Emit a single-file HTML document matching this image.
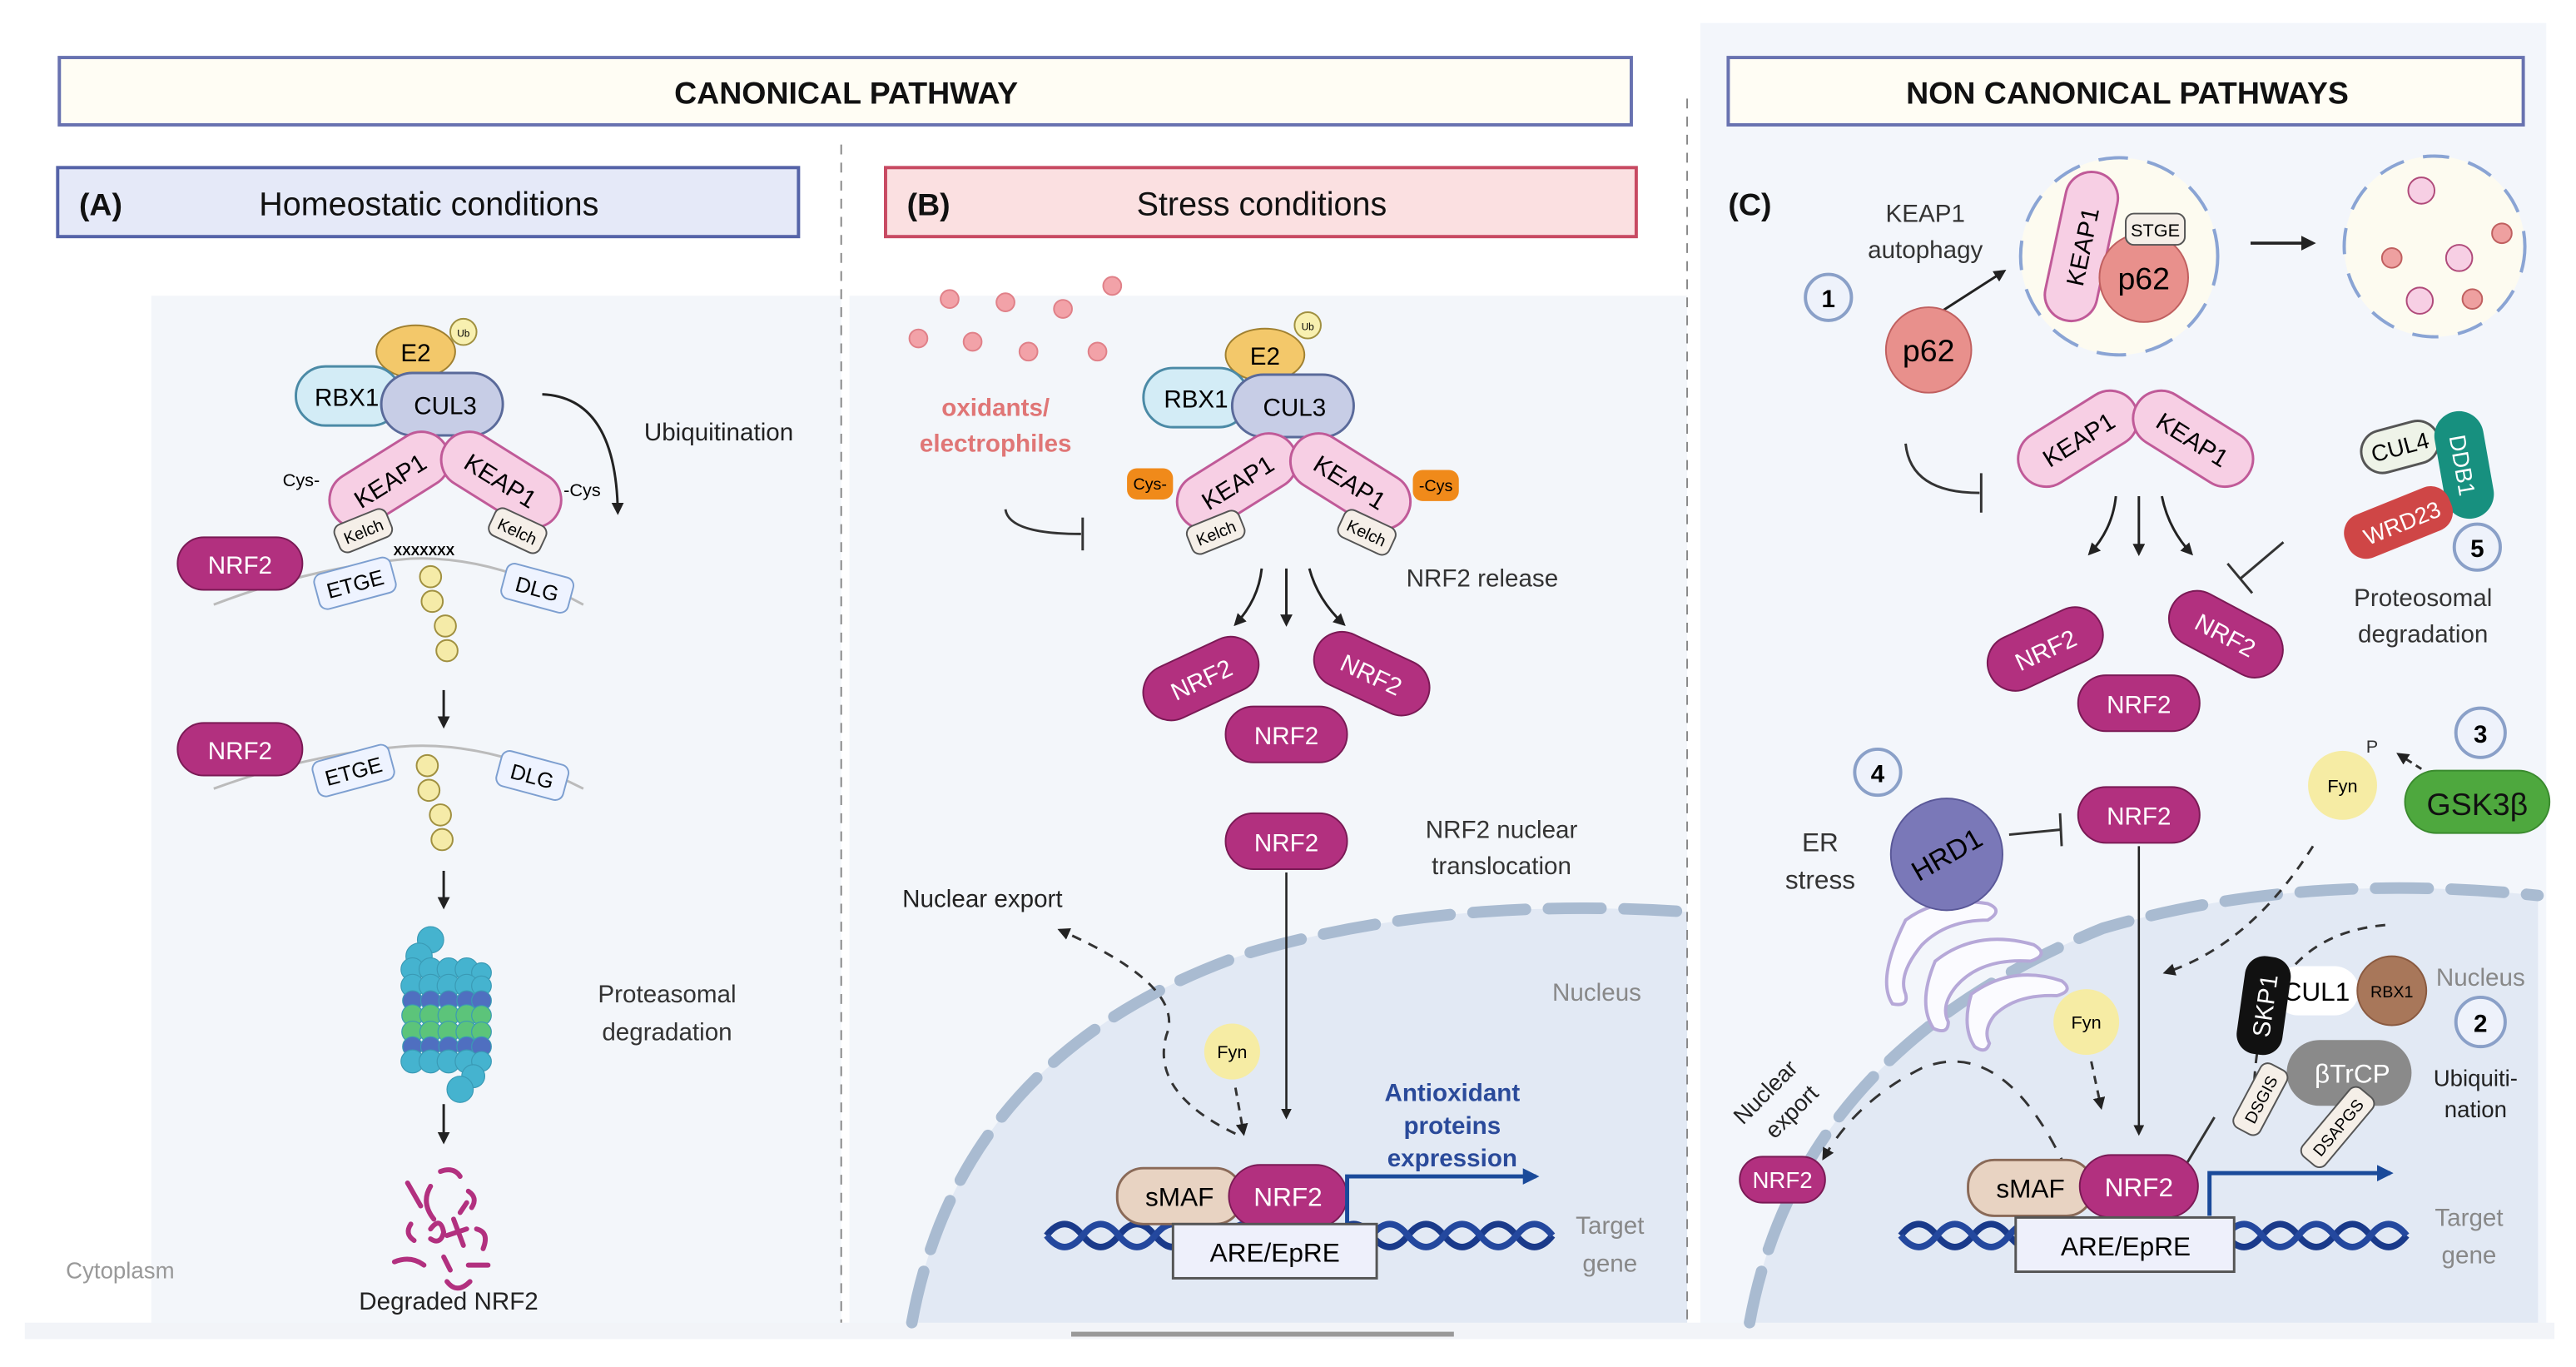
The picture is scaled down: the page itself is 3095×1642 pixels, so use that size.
<!DOCTYPE html>
<html><head><meta charset="utf-8"><style>
html,body{margin:0;padding:0;background:#fff;}
svg{display:block;}
text{font-family:"Liberation Sans",sans-serif;}
</style></head><body>
<svg width="3095" height="1642" viewBox="0 0 1568 832" xmlns="http://www.w3.org/2000/svg">
<defs>
<marker id="ah" viewBox="0 0 10 10" refX="8" refY="5" markerWidth="5" markerHeight="5" orient="auto"><path d="M0,0 L10,5 L0,10 z" fill="#222"/></marker>
<marker id="ahb" viewBox="0 0 10 10" refX="8" refY="5" markerWidth="4" markerHeight="4" orient="auto"><path d="M0,0 L10,5 L0,10 z" fill="#1a4a9a"/></marker>
</defs>
<rect width="1568" height="832" fill="#fff"/>
<!-- backgrounds -->
<rect x="1035" y="14" width="515" height="800" fill="#f3f6fb"/>
<rect x="92" y="180" width="420" height="634" fill="#f3f6fa"/>
<rect x="517" y="180" width="510" height="634" fill="#f3f6fa"/>
<rect x="15" y="805" width="1540" height="10" fill="#f2f4f8"/>
<!-- nuclei -->
<path d="M555,805 Q585,640 760,580 Q880,545 1027,555 L1027,805 Z" fill="#e2e9f4"/>
<path d="M555,805 Q585,640 760,580 Q880,545 1027,555" fill="none" stroke="#a9bbd1" stroke-width="7" stroke-dasharray="32 14" stroke-linecap="round"/>
<path d="M1065,805 Q1095,640 1280,565 Q1400,530 1545,545 L1545,805 Z" fill="#e2e9f4"/>
<path d="M1065,805 Q1095,640 1280,565 Q1400,530 1545,545" fill="none" stroke="#a9bbd1" stroke-width="7" stroke-dasharray="32 14" stroke-linecap="round"/>
<!-- dividers -->
<line x1="512" y1="88" x2="512" y2="805" stroke="#888" stroke-width="1" stroke-dasharray="6 5"/>
<line x1="1027" y1="60" x2="1027" y2="805" stroke="#888" stroke-width="1" stroke-dasharray="6 5"/>
<line x1="652" y1="812" x2="885" y2="812" stroke="#999" stroke-width="3"/>
<!-- headers -->
<rect x="36" y="35" width="957" height="41" fill="#fffdf4" stroke="#6872b0" stroke-width="2"/>
<text x="515" y="63" font-size="19" font-weight="bold" text-anchor="middle" fill="#111">CANONICAL PATHWAY</text>
<rect x="1052" y="35" width="484" height="41" fill="#fffdf4" stroke="#6872b0" stroke-width="2"/>
<text x="1295" y="63" font-size="19" font-weight="bold" text-anchor="middle" fill="#111">NON CANONICAL PATHWAYS</text>
<rect x="35" y="102" width="451" height="42" fill="#e5e9f8" stroke="#5563a8" stroke-width="2"/>
<text x="48" y="131" font-size="19" font-weight="bold" fill="#111">(A)</text>
<text x="261" y="131" font-size="20" text-anchor="middle" fill="#111">Homeostatic conditions</text>
<rect x="539" y="102" width="457" height="42" fill="#fbe0e1" stroke="#c84a62" stroke-width="2"/>
<text x="552" y="131" font-size="19" font-weight="bold" fill="#111">(B)</text>
<text x="768" y="131" font-size="20" text-anchor="middle" fill="#111">Stress conditions</text>

<!-- ========== PANEL A ========== -->
<g font-size="14">
<ellipse cx="253" cy="214" rx="24" ry="16" fill="#f3c86a" stroke="#a08030"/>
<text x="253" y="220" text-anchor="middle" font-size="15">E2</text>
<circle cx="282" cy="202" r="8" fill="#f8f0b0" stroke="#a09040"/>
<text x="282" y="205" text-anchor="middle" font-size="6">Ub</text>
<rect x="180" y="223" width="64" height="36" rx="18" fill="#d3ecf6" stroke="#4b8aa6" stroke-width="1.5"/>
<text x="211" y="247" text-anchor="middle" font-size="15">RBX1</text>
<rect x="232" y="227" width="74" height="38" rx="19" fill="#c7cde6" stroke="#5a6a9a" stroke-width="1.5"/>
<text x="271" y="252" text-anchor="middle" font-size="15">CUL3</text>
<g transform="translate(237,292) rotate(-32)"><rect x="-40" y="-17" width="80" height="34" rx="17" fill="#f7cfe4" stroke="#c05a98" stroke-width="1.5"/><text x="0" y="6" text-anchor="middle" font-size="15">KEAP1</text></g>
<g transform="translate(305,292) rotate(32)"><rect x="-40" y="-17" width="80" height="34" rx="17" fill="#f7cfe4" stroke="#c05a98" stroke-width="1.5"/><text x="0" y="6" text-anchor="middle" font-size="15">KEAP1</text></g>
<text x="172" y="296" font-size="11">Cys-</text>
<text x="343" y="302" font-size="11">-Cys</text>
<g transform="translate(221,323) rotate(-22)"><rect x="-17" y="-9" width="34" height="18" rx="5" fill="#f5efe8" stroke="#555"/><text x="0" y="4" text-anchor="middle" font-size="10">Kelch</text></g>
<g transform="translate(315,323) rotate(25)"><rect x="-17" y="-9" width="34" height="18" rx="5" fill="#f5efe8" stroke="#555"/><text x="0" y="4" text-anchor="middle" font-size="10">Kelch</text></g>
<text x="258" y="338" text-anchor="middle" font-size="8" font-weight="bold">XXXXXXX</text>
<path d="M130,368 Q190,345 250,340 Q300,338 355,368" fill="none" stroke="#bbb" stroke-width="1.5"/>
<rect x="108" y="327" width="76" height="32" rx="16" fill="#b2307f" stroke="#7a1a55"/>
<text x="146" y="349" text-anchor="middle" fill="#fff" font-size="15">NRF2</text>
<g transform="translate(216,355) rotate(-15)"><rect x="-24" y="-11" width="48" height="22" rx="5" fill="#eef3ff" stroke="#7d9fd0"/><text x="0" y="5" text-anchor="middle" font-size="13">ETGE</text></g>
<g transform="translate(327,358) rotate(15)"><rect x="-21" y="-11" width="42" height="22" rx="5" fill="#eef3ff" stroke="#7d9fd0"/><text x="0" y="5" text-anchor="middle" font-size="13">DLG</text></g>
<g fill="#f5eba8" stroke="#a09040"><circle cx="262" cy="351" r="6.5"/><circle cx="263" cy="366" r="6.5"/><circle cx="271" cy="381" r="6.5"/><circle cx="272" cy="396" r="6.5"/></g>
<path d="M330,240 Q375,242 376,312" fill="none" stroke="#222" stroke-width="1.5" marker-end="url(#ah)"/>
<text x="392" y="268" font-size="15" fill="#222">Ubiquitination</text>
<line x1="270" y1="420" x2="270" y2="442" stroke="#222" stroke-width="1.5" marker-end="url(#ah)"/>
<path d="M130,480 Q190,458 250,454 Q300,452 355,480" fill="none" stroke="#bbb" stroke-width="1.5"/>
<rect x="108" y="440" width="76" height="32" rx="16" fill="#b2307f" stroke="#7a1a55"/>
<text x="146" y="462" text-anchor="middle" fill="#fff" font-size="15">NRF2</text>
<g transform="translate(215,469) rotate(-15)"><rect x="-24" y="-11" width="48" height="22" rx="5" fill="#eef3ff" stroke="#7d9fd0"/><text x="0" y="5" text-anchor="middle" font-size="13">ETGE</text></g>
<g transform="translate(324,472) rotate(15)"><rect x="-21" y="-11" width="42" height="22" rx="5" fill="#eef3ff" stroke="#7d9fd0"/><text x="0" y="5" text-anchor="middle" font-size="13">DLG</text></g>
<g fill="#f5eba8" stroke="#a09040"><circle cx="260" cy="466" r="6.5"/><circle cx="261" cy="481" r="6.5"/><circle cx="268" cy="496" r="6.5"/><circle cx="269" cy="511" r="6.5"/></g>
<line x1="270" y1="530" x2="270" y2="552" stroke="#222" stroke-width="1.5" marker-end="url(#ah)"/>
<!-- proteasome -->
<g stroke="#3a9ab5" stroke-width="0.6">
<circle cx="262" cy="572" r="8" fill="#45b3cf"/><circle cx="255" cy="582" r="8" fill="#45b3cf"/>
<g fill="#45b3cf"><circle cx="251" cy="590" r="7"/><circle cx="262" cy="590" r="7"/><circle cx="273" cy="590" r="7"/><circle cx="284" cy="590" r="7"/><circle cx="293" cy="592" r="6"/>
<circle cx="251" cy="600" r="7"/><circle cx="262" cy="600" r="7"/><circle cx="273" cy="600" r="7"/><circle cx="284" cy="600" r="7"/><circle cx="293" cy="600" r="6"/></g>
<g fill="#4f6fc0"><circle cx="251" cy="609" r="6"/><circle cx="262" cy="609" r="6"/><circle cx="273" cy="609" r="6"/><circle cx="284" cy="609" r="6"/><circle cx="293" cy="609" r="6"/></g>
<g fill="#5cc47a"><circle cx="251" cy="618" r="6.5"/><circle cx="262" cy="618" r="6.5"/><circle cx="273" cy="618" r="6.5"/><circle cx="284" cy="618" r="6.5"/><circle cx="293" cy="618" r="6"/>
<circle cx="251" cy="628" r="6.5"/><circle cx="262" cy="628" r="6.5"/><circle cx="273" cy="628" r="6.5"/><circle cx="284" cy="628" r="6.5"/><circle cx="293" cy="628" r="6"/></g>
<g fill="#4f6fc0"><circle cx="251" cy="637" r="6"/><circle cx="262" cy="637" r="6"/><circle cx="273" cy="637" r="6"/><circle cx="284" cy="637" r="6"/><circle cx="293" cy="637" r="6"/></g>
<g fill="#45b3cf"><circle cx="251" cy="646" r="7"/><circle cx="262" cy="646" r="7"/><circle cx="273" cy="646" r="7"/><circle cx="284" cy="646" r="7"/><circle cx="293" cy="646" r="6"/>
<circle cx="288" cy="655" r="7"/><circle cx="280" cy="663" r="8"/></g>
</g>
<text x="406" y="610" text-anchor="middle" font-size="15" fill="#333">Proteasomal</text>
<text x="406" y="633" text-anchor="middle" font-size="15" fill="#333">degradation</text>
<line x1="270" y1="672" x2="270" y2="695" stroke="#222" stroke-width="1.5" marker-end="url(#ah)"/>
<g fill="none" stroke="#b2307f" stroke-width="3" stroke-linecap="round">
<path d="M248,720 l8,14"/><path d="M262,722 q-6,10 2,20"/><path d="M268,713 q8,-3 12,3"/><path d="M285,725 q6,4 2,10"/>
<path d="M250,745 q-4,6 2,10"/><path d="M262,748 q6,-8 8,2 q-2,8 -8,4"/><path d="M276,742 l6,16 M272,752 l12,-4"/><path d="M290,748 q8,2 4,12"/>
<path d="M240,768 q10,-4 18,2"/><path d="M270,765 l4,8"/><path d="M285,770 l12,0"/><path d="M272,780 q6,8 14,0"/><path d="M280,738 l4,-6"/>
</g>
<text x="273" y="797" text-anchor="middle" font-size="15" fill="#222">Degraded NRF2</text>
<text x="40" y="778" font-size="14" fill="#999">Cytoplasm</text>
</g>

<!-- ========== PANEL B ========== -->
<g font-size="14">
<g fill="#f2a2a8" stroke="#e08088"><circle cx="578" cy="182" r="5.5"/><circle cx="612" cy="184" r="5.5"/><circle cx="647" cy="188" r="5.5"/><circle cx="677" cy="174" r="5.5"/><circle cx="559" cy="206" r="5.5"/><circle cx="592" cy="208" r="5.5"/><circle cx="626" cy="214" r="5.5"/><circle cx="668" cy="214" r="5.5"/></g>
<text x="606" y="253" text-anchor="middle" font-size="15" font-weight="bold" fill="#e07676">oxidants/</text>
<text x="606" y="275" text-anchor="middle" font-size="15" font-weight="bold" fill="#e07676">electrophiles</text>
<path d="M612,310 Q614,325 658,325" fill="none" stroke="#333" stroke-width="1.5"/>
<line x1="659" y1="315" x2="659" y2="335" stroke="#333" stroke-width="1.5"/>
<ellipse cx="770" cy="216" rx="24" ry="16" fill="#f3c86a" stroke="#a08030"/>
<text x="770" y="222" text-anchor="middle" font-size="15">E2</text>
<circle cx="796" cy="198" r="8" fill="#f8f0b0" stroke="#a09040"/>
<text x="796" y="201" text-anchor="middle" font-size="6">Ub</text>
<rect x="696" y="224" width="64" height="36" rx="18" fill="#d3ecf6" stroke="#4b8aa6" stroke-width="1.5"/>
<text x="728" y="248" text-anchor="middle" font-size="15">RBX1</text>
<rect x="750" y="228" width="74" height="38" rx="19" fill="#c7cde6" stroke="#5a6a9a" stroke-width="1.5"/>
<text x="788" y="253" text-anchor="middle" font-size="15">CUL3</text>
<g transform="translate(753,293) rotate(-32)"><rect x="-40" y="-17" width="80" height="34" rx="17" fill="#f7cfe4" stroke="#c05a98" stroke-width="1.5"/><text x="0" y="6" text-anchor="middle" font-size="15">KEAP1</text></g>
<g transform="translate(822,293) rotate(32)"><rect x="-40" y="-17" width="80" height="34" rx="17" fill="#f7cfe4" stroke="#c05a98" stroke-width="1.5"/><text x="0" y="6" text-anchor="middle" font-size="15">KEAP1</text></g>
<rect x="686" y="285" width="28" height="19" rx="6" fill="#f08a1a"/>
<text x="700" y="298" text-anchor="middle" font-size="10">Cys-</text>
<rect x="860" y="286" width="28" height="19" rx="6" fill="#f08a1a"/>
<text x="874" y="299" text-anchor="middle" font-size="10">-Cys</text>
<g transform="translate(740,324) rotate(-22)"><rect x="-17" y="-9" width="34" height="18" rx="5" fill="#f5efe8" stroke="#555"/><text x="0" y="4" text-anchor="middle" font-size="10">Kelch</text></g>
<g transform="translate(832,324) rotate(25)"><rect x="-17" y="-9" width="34" height="18" rx="5" fill="#f5efe8" stroke="#555"/><text x="0" y="4" text-anchor="middle" font-size="10">Kelch</text></g>
<path d="M768,346 Q766,365 752,380" fill="none" stroke="#222" stroke-width="1.5" marker-end="url(#ah)"/>
<line x1="783" y1="346" x2="783" y2="380" stroke="#222" stroke-width="1.5" marker-end="url(#ah)"/>
<path d="M797,346 Q802,365 818,380" fill="none" stroke="#222" stroke-width="1.5" marker-end="url(#ah)"/>
<text x="856" y="357" font-size="15" fill="#333">NRF2 release</text>
<g transform="translate(731,413) rotate(-25)"><rect x="-37" y="-17" width="74" height="34" rx="17" fill="#b2307f" stroke="#7a1a55"/><text x="0" y="6" text-anchor="middle" fill="#fff" font-size="15">NRF2</text></g>
<g transform="translate(835,410) rotate(25)"><rect x="-37" y="-17" width="74" height="34" rx="17" fill="#b2307f" stroke="#7a1a55"/><text x="0" y="6" text-anchor="middle" fill="#fff" font-size="15">NRF2</text></g>
<rect x="746" y="430" width="74" height="34" rx="17" fill="#b2307f" stroke="#7a1a55"/>
<text x="783" y="453" text-anchor="middle" fill="#fff" font-size="15">NRF2</text>
<rect x="746" y="495" width="74" height="34" rx="17" fill="#b2307f" stroke="#7a1a55"/>
<text x="783" y="518" text-anchor="middle" fill="#fff" font-size="15">NRF2</text>
<text x="914" y="510" text-anchor="middle" font-size="15" fill="#333">NRF2 nuclear</text>
<text x="914" y="532" text-anchor="middle" font-size="15" fill="#333">translocation</text>
<line x1="783" y1="531" x2="783" y2="680" stroke="#222" stroke-width="1.3" marker-end="url(#ah)"/>
<text x="598" y="552" text-anchor="middle" font-size="15" fill="#222">Nuclear export</text>
<path d="M752,690 Q700,665 710,630 Q722,600 645,566" fill="none" stroke="#333" stroke-width="1.5" stroke-dasharray="6 5" marker-end="url(#ah)"/>
<text x="972" y="609" text-anchor="middle" font-size="15" fill="#888">Nucleus</text>
<circle cx="750" cy="640" r="17" fill="#f6eca4"/>
<text x="750" y="644" text-anchor="middle" font-size="11">Fyn</text>
<path d="M752,662 L757,690" fill="none" stroke="#333" stroke-width="1.5" stroke-dasharray="5 4" marker-end="url(#ah)"/>
<text x="884" y="670" text-anchor="middle" font-size="15" font-weight="bold" fill="#2a4a9a">Antioxidant</text>
<text x="884" y="690" text-anchor="middle" font-size="15" font-weight="bold" fill="#2a4a9a">proteins</text>
<text x="884" y="710" text-anchor="middle" font-size="15" font-weight="bold" fill="#2a4a9a">expression</text>
<path d="M637,752 q11,-14 22,0 t22,0 t22,0 t22,0 t22,0 t22,0 t22,0 t22,0 t22,0 t22,0 t22,0 t22,0 t22,0 t22,0" fill="none" stroke="#1a3a8a" stroke-width="4"/>
<path d="M637,752 q11,14 22,0 t22,0 t22,0 t22,0 t22,0 t22,0 t22,0 t22,0 t22,0 t22,0 t22,0 t22,0 t22,0 t22,0" fill="none" stroke="#24489e" stroke-width="4"/>
<rect x="680" y="711" width="76" height="34" rx="16" fill="#e8d3c2" stroke="#8a6a58" stroke-width="1.5"/>
<text x="718" y="734" text-anchor="middle" font-size="16">sMAF</text>
<rect x="748" y="709" width="72" height="38" rx="19" fill="#b2307f" stroke="#7a1a55"/>
<text x="784" y="734" text-anchor="middle" fill="#fff" font-size="16">NRF2</text>
<path d="M820,745 L820,716 L935,716" fill="none" stroke="#1a4a9a" stroke-width="2.5" marker-end="url(#ahb)"/>
<rect x="714" y="745" width="124" height="33" fill="#eef0fb" stroke="#555" stroke-width="1.5"/>
<text x="776" y="768" text-anchor="middle" font-size="16">ARE/EpRE</text>
<text x="980" y="751" text-anchor="middle" font-size="15" fill="#888">Target</text>
<text x="980" y="774" text-anchor="middle" font-size="15" fill="#888">gene</text>
</g>

<!-- ========== PANEL C ========== -->
<g font-size="14">
<text x="1052" y="131" font-size="19" font-weight="bold" fill="#111">(C)</text>
<text x="1172" y="135" text-anchor="middle" font-size="15" fill="#333">KEAP1</text>
<text x="1172" y="157" text-anchor="middle" font-size="15" fill="#333">autophagy</text>
<circle cx="1113" cy="181" r="14" fill="#eef2fb" stroke="#8aa0c8" stroke-width="2"/>
<text x="1113" y="187" text-anchor="middle" font-size="15" font-weight="bold">1</text>
<line x1="1178" y1="192" x2="1220" y2="165" stroke="#222" stroke-width="1.5" marker-end="url(#ah)"/>
<circle cx="1290" cy="156" r="60" fill="#fdfbf0" stroke="#8aa4d4" stroke-width="2" stroke-dasharray="18 12"/>
<g transform="translate(1267,150) rotate(-78)"><rect x="-46" y="-16" width="92" height="32" rx="16" fill="#f7cfe4" stroke="#c05a98" stroke-width="1.5"/><text x="0" y="6" text-anchor="middle" font-size="15">KEAP1</text></g>
<circle cx="1305" cy="169" r="27" fill="#e8908c" stroke="#c06060"/>
<text x="1305" y="176" text-anchor="middle" font-size="19">p62</text>
<rect x="1294" y="130" width="36" height="19" rx="5" fill="#f5efe8" stroke="#555"/>
<text x="1312" y="144" text-anchor="middle" font-size="11">STGE</text>
<line x1="1370" y1="148" x2="1408" y2="148" stroke="#222" stroke-width="1.8" marker-end="url(#ah)"/>
<circle cx="1482" cy="150" r="55" fill="#fdfbf0" stroke="#8aa4d4" stroke-width="2" stroke-dasharray="16 12"/>
<g stroke="#b04a7a"><circle cx="1474" cy="116" r="8" fill="#f7cfe4"/><circle cx="1497" cy="157" r="8" fill="#f7cfe4"/><circle cx="1473" cy="183" r="8" fill="#f7cfe4"/></g>
<g stroke="#c06060"><circle cx="1523" cy="142" r="6" fill="#eea0a0"/><circle cx="1456" cy="157" r="6" fill="#eea0a0"/><circle cx="1505" cy="182" r="6" fill="#eea0a0"/></g>
<circle cx="1174" cy="213" r="26" fill="#e8908c" stroke="#c06060"/>
<text x="1174" y="220" text-anchor="middle" font-size="19">p62</text>
<path d="M1160,270 Q1163,300 1205,300" fill="none" stroke="#333" stroke-width="1.5"/>
<line x1="1206" y1="288" x2="1206" y2="312" stroke="#333" stroke-width="1.5"/>
<g transform="translate(1265,267) rotate(-32)"><rect x="-40" y="-17" width="80" height="34" rx="17" fill="#f7cfe4" stroke="#c05a98" stroke-width="1.5"/><text x="0" y="6" text-anchor="middle" font-size="15">KEAP1</text></g>
<g transform="translate(1335,267) rotate(32)"><rect x="-40" y="-17" width="80" height="34" rx="17" fill="#f7cfe4" stroke="#c05a98" stroke-width="1.5"/><text x="0" y="6" text-anchor="middle" font-size="15">KEAP1</text></g>
<path d="M1288,302 Q1286,322 1272,337" fill="none" stroke="#222" stroke-width="1.5" marker-end="url(#ah)"/>
<line x1="1302" y1="302" x2="1302" y2="337" stroke="#222" stroke-width="1.5" marker-end="url(#ah)"/>
<path d="M1316,302 Q1320,322 1334,337" fill="none" stroke="#222" stroke-width="1.5" marker-end="url(#ah)"/>
<g transform="translate(1461,272) rotate(-15)"><rect x="-24" y="-13" width="48" height="26" rx="13" fill="#eef3e8" stroke="#555" stroke-width="1.5"/><text x="0" y="5" text-anchor="middle" font-size="14">CUL4</text></g>
<g transform="translate(1500,283) rotate(80)"><rect x="-33" y="-15" width="66" height="30" rx="15" fill="#17907f"/><text x="0" y="6" text-anchor="middle" fill="#fff" font-size="14">DDB1</text></g>
<g transform="translate(1460,318) rotate(-22)"><rect x="-34" y="-14" width="68" height="28" rx="12" fill="#cf4646"/><text x="2" y="6" text-anchor="middle" fill="#fff" font-size="14">WRD23</text></g>
<circle cx="1508" cy="333" r="14" fill="#eef2fb" stroke="#8aa0c8" stroke-width="2"/>
<text x="1508" y="339" text-anchor="middle" font-size="15" font-weight="bold">5</text>
<text x="1475" y="369" text-anchor="middle" font-size="15" fill="#333">Proteosomal</text>
<text x="1475" y="391" text-anchor="middle" font-size="15" fill="#333">degradation</text>
<line x1="1390" y1="330" x2="1364" y2="352" stroke="#333" stroke-width="1.5"/>
<line x1="1356" y1="343" x2="1371" y2="361" stroke="#333" stroke-width="1.5"/>
<g transform="translate(1245,395) rotate(-25)"><rect x="-37" y="-17" width="74" height="34" rx="17" fill="#b2307f" stroke="#7a1a55"/><text x="0" y="6" text-anchor="middle" fill="#fff" font-size="15">NRF2</text></g>
<g transform="translate(1355,386) rotate(28)"><rect x="-37" y="-17" width="74" height="34" rx="17" fill="#b2307f" stroke="#7a1a55"/><text x="0" y="6" text-anchor="middle" fill="#fff" font-size="15">NRF2</text></g>
<rect x="1265" y="411" width="74" height="34" rx="17" fill="#b2307f" stroke="#7a1a55"/>
<text x="1302" y="434" text-anchor="middle" fill="#fff" font-size="15">NRF2</text>
<circle cx="1143" cy="470" r="14" fill="#eef2fb" stroke="#8aa0c8" stroke-width="2"/>
<text x="1143" y="476" text-anchor="middle" font-size="15" font-weight="bold">4</text>
<text x="1108" y="518" text-anchor="middle" font-size="16" fill="#333">ER</text>
<text x="1108" y="541" text-anchor="middle" font-size="16" fill="#333">stress</text>
<!-- ER membranes -->
<g fill="#fbfbff" stroke="#b6a8d8" stroke-width="2">
<path d="M1160,560 q20,-15 50,-10 q10,4 0,10 q-25,0 -40,15 q-15,18 -10,30 q2,8 -8,6 q-10,-15 8,-51z"/>
<path d="M1178,585 q25,-20 60,-10 q10,6 -2,10 q-30,-2 -45,15 q-10,12 -5,22 q0,8 -9,4 q-10,-15 1,-41z"/>
<path d="M1200,605 q25,-18 55,-8 q8,6 -3,9 q-25,-1 -38,12 q-7,9 -3,17 q-2,7 -9,2 q-8,-12 -2,-32z"/>
</g>
<circle cx="1185" cy="520" r="34" fill="#7a78b8" stroke="#5a5898"/>
<text x="1185" y="526" text-anchor="middle" font-size="17" transform="rotate(-30 1185 520)">HRD1</text>
<line x1="1223" y1="508" x2="1254" y2="505" stroke="#333" stroke-width="1.5"/>
<line x1="1254" y1="495" x2="1255" y2="515" stroke="#333" stroke-width="1.5"/>
<rect x="1265" y="479" width="74" height="34" rx="17" fill="#b2307f" stroke="#7a1a55"/>
<text x="1302" y="502" text-anchor="middle" fill="#fff" font-size="15">NRF2</text>
<line x1="1302" y1="515" x2="1302" y2="690" stroke="#222" stroke-width="1.3" marker-end="url(#ah)"/>
<circle cx="1426" cy="478" r="21" fill="#f6eca4"/>
<text x="1426" y="482" text-anchor="middle" font-size="11">Fyn</text>
<text x="1444" y="458" text-anchor="middle" font-size="11" fill="#333">P</text>
<circle cx="1510" cy="446" r="15" fill="#eef2fb" stroke="#8aa0c8" stroke-width="2"/>
<text x="1510" y="452" text-anchor="middle" font-size="15" font-weight="bold">3</text>
<path d="M1474,468 L1460,459" fill="none" stroke="#333" stroke-width="1.5" stroke-dasharray="4 3" marker-end="url(#ah)"/>
<rect x="1464" y="469" width="88" height="38" rx="19" fill="#4ea83e" stroke="#3a8a2e"/>
<text x="1508" y="496" text-anchor="middle" font-size="19" fill="#111">GSK3β</text>
<path d="M1408,515 Q1370,575 1318,592" fill="none" stroke="#333" stroke-width="1.5" stroke-dasharray="6 5" marker-end="url(#ah)"/>
<path d="M1452,563 Q1372,570 1372,670" fill="none" stroke="#333" stroke-width="1.5" stroke-dasharray="6 5" marker-end="url(#ah)"/>
<text x="1510" y="600" text-anchor="middle" font-size="15" fill="#888">Nucleus</text>
<circle cx="1510" cy="622" r="15" fill="#eef2fb" stroke="#8aa0c8" stroke-width="2"/>
<text x="1510" y="628" text-anchor="middle" font-size="15" font-weight="bold">2</text>
<text x="1507" y="661" text-anchor="middle" font-size="14" fill="#222">Ubiquiti-</text>
<text x="1507" y="680" text-anchor="middle" font-size="14" fill="#222">nation</text>
<rect x="1384" y="588" width="52" height="30" rx="15" fill="#fff"/>
<text x="1410" y="609" text-anchor="middle" font-size="16">CUL1</text>
<circle cx="1456" cy="603" r="21" fill="#a8775a" stroke="#8a5a40"/>
<text x="1456" y="607" text-anchor="middle" font-size="10">RBX1</text>
<rect x="1392" y="633" width="76" height="40" rx="20" fill="#8a8a8a"/>
<text x="1432" y="659" text-anchor="middle" font-size="16" fill="#fff">βTrCP</text>
<g transform="translate(1378,612) rotate(-82)"><rect x="-30" y="-14" width="60" height="28" rx="12" fill="#111"/><text x="0" y="6" text-anchor="middle" fill="#fff" font-size="15">SKP1</text></g>
<g transform="translate(1376,669) rotate(-62)"><rect x="-22" y="-9" width="44" height="18" rx="5" fill="#f5efe8" stroke="#555"/><text x="0" y="4" text-anchor="middle" font-size="10">DSGIS</text></g>
<g transform="translate(1423,686) rotate(-50)"><rect x="-27" y="-9" width="54" height="18" rx="5" fill="#f5efe8" stroke="#555"/><text x="0" y="4" text-anchor="middle" font-size="10">DSAPGS</text></g>
<line x1="1348" y1="680" x2="1330" y2="710" stroke="#333" stroke-width="1.5"/>
<line x1="1322" y1="704" x2="1336" y2="714" stroke="#333" stroke-width="1.5"/>
<circle cx="1270" cy="622" r="20" fill="#f6eca4"/>
<text x="1270" y="626" text-anchor="middle" font-size="11">Fyn</text>
<path d="M1273,646 L1279,674" fill="none" stroke="#333" stroke-width="1.5" stroke-dasharray="5 4" marker-end="url(#ah)"/>
<text x="1078" y="668" text-anchor="middle" font-size="14" fill="#222" transform="rotate(-45 1078 668)">Nuclear</text>
<text x="1094" y="680" text-anchor="middle" font-size="14" fill="#222" transform="rotate(-45 1094 680)">export</text>
<path d="M1258,712 Q1220,630 1170,650 Q1130,670 1110,705" fill="none" stroke="#333" stroke-width="1.5" stroke-dasharray="8 7" marker-end="url(#ah)"/>
<rect x="1059" y="704" width="52" height="28" rx="14" fill="#b2307f" stroke="#7a1a55"/>
<text x="1085" y="723" text-anchor="middle" fill="#fff" font-size="14">NRF2</text>
<path d="M1157,752 q11,-14 22,0 t22,0 t22,0 t22,0 t22,0 t22,0 t22,0 t22,0 t22,0 t22,0 t22,0 t22,0 t22,0 t22,0" fill="none" stroke="#1a3a8a" stroke-width="4"/>
<path d="M1157,752 q11,14 22,0 t22,0 t22,0 t22,0 t22,0 t22,0 t22,0 t22,0 t22,0 t22,0 t22,0 t22,0 t22,0 t22,0" fill="none" stroke="#24489e" stroke-width="4"/>
<rect x="1198" y="706" width="76" height="34" rx="16" fill="#e8d3c2" stroke="#8a6a58" stroke-width="1.5"/>
<text x="1236" y="729" text-anchor="middle" font-size="16">sMAF</text>
<rect x="1266" y="703" width="72" height="38" rx="19" fill="#b2307f" stroke="#7a1a55"/>
<text x="1302" y="728" text-anchor="middle" fill="#fff" font-size="16">NRF2</text>
<path d="M1345,740 L1345,714 L1455,714" fill="none" stroke="#1a4a9a" stroke-width="2.5" marker-end="url(#ahb)"/>
<rect x="1227" y="741" width="133" height="33" fill="#eef0fb" stroke="#555" stroke-width="1.5"/>
<text x="1294" y="764" text-anchor="middle" font-size="16">ARE/EpRE</text>
<text x="1503" y="746" text-anchor="middle" font-size="15" fill="#888">Target</text>
<text x="1503" y="769" text-anchor="middle" font-size="15" fill="#888">gene</text>
</g>
</svg>
</body></html>
